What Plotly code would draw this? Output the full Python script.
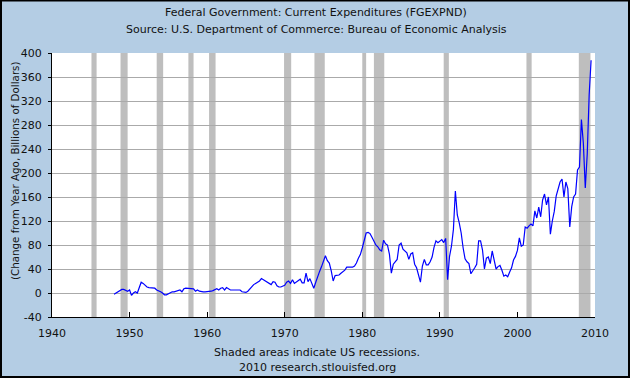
import pandas as pd
import plotly.graph_objects as go

# Quarterly change from year ago, billions of dollars, starting 1948 Q1
start_quarter = "1948-01-01"
values = [
    -2, 0, 2, 4,        # 1948
    6, 6, 5, 3,         # 1949
    5, -4, 0, 2,        # 1950
    0, 8, 18, 16,       # 1951
    12, 10, 9, 9,       # 1952
    8, 8, 5, 4,         # 1953
    2, 0, -3, -3,       # 1954
    -1, 1, 2, 2,        # 1955
    3, 4, 5, 2,         # 1956
    7, 8, 8, 8,         # 1957
    7, 7, 3, 5,         # 1958
    3, 2, 2, 2,         # 1959
    2, 2, 3, 4,         # 1960
    5, 7, 5, 8,         # 1961
    9, 5, 9, 7,         # 1962
    5, 5, 5, 6,         # 1963
    5, 5, 2, 1,         # 1964
    1, 3, 7, 10,        # 1965
    14, 16, 18, 20,     # 1966
    24, 22, 19, 18,     # 1967
    16, 14, 19, 18,     # 1968
    12, 10, 10, 12,     # 1969
    13, 18, 20, 16,     # 1970
    22, 16, 18, 20,     # 1971
    23, 17, 17, 33,     # 1972
    19, 24, 17, 8,      # 1973
    18, 28, 36, 44,     # 1974
    52, 62, 54, 50,     # 1975
    37, 20, 29, 29,     # 1976
    30, 33, 36, 38,     # 1977
    43, 43, 43, 43,     # 1978
    45, 50, 58, 64,     # 1979
    75, 90, 100, 101,   # 1980
    99, 93, 86, 80,     # 1981
    77, 72, 70, 88,     # 1982
    82, 80, 65, 33,     # 1983
    48, 53, 56, 80,     # 1984
    83, 73, 70, 67,     # 1985
    56, 65, 67, 48,     # 1986
    42, 32, 18, 45,     # 1987
    56, 47, 47, 52,     # 1988
    60, 76, 87, 84,     # 1989
    86, 89, 84, 91,     # 1990
    22, 61, 78, 106,    # 1991
    170, 130, 117, 100, # 1992
    75, 57, 52, 49,     # 1993
    32, 36, 42, 48,     # 1994
    87, 87, 72, 40,     # 1995
    58, 60, 49, 70,     # 1996
    52, 40, 44, 46,     # 1997
    38, 28, 30, 27,     # 1998
    35, 42, 55, 61,     # 1999
    71, 92, 78, 80,     # 2000
    110, 108, 112, 115, # 2001
    112, 137, 125, 143, # 2002
    127, 155, 165, 147, # 2003
    160, 98, 120, 136,  # 2004
    162, 172, 185, 190, # 2005
    160, 185, 174, 110, # 2006
    144, 160, 165, 205, # 2007
    210, 289, 250, 175, # 2008
    232, 330, 388,      # 2009
]

recession_starts = ["1945-02-01", "1948-11-01", "1953-07-01", "1957-08-01", "1960-04-01",
                    "1969-12-01", "1973-11-01", "1980-01-01", "1981-07-01", "1990-07-01",
                    "2001-03-01", "2007-12-01"]
recession_ends = ["1945-10-01", "1949-10-01", "1954-05-01", "1958-04-01", "1961-02-01",
                  "1970-11-01", "1975-03-01", "1980-07-01", "1982-11-01", "1991-03-01",
                  "2001-11-01", "2009-06-01"]

x_tick_years = ["1940", "1950", "1960", "1970", "1980", "1990", "2000", "2010"]
y_ticks = [-40, 0, 40, 80, 120, 160, 200, 240, 280, 320, 360, 400]

title_text = "Federal Government: Current Expenditures (FGEXPND)"
subtitle_text = "Source: U.S. Department of Commerce: Bureau of Economic Analysis"
y_title = "(Change from Year Ago, Billions of Dollars)"
caption1 = "Shaded areas indicate US recessions."
caption2 = "2010 research.stlouisfed.org"

dates = pd.date_range(start_quarter, periods=len(values), freq="QS")

W, H = 630, 378
ML, MR, MT, MB = 52, 35, 53, 61
PW, PH = W - ML - MR, H - MT - MB

FONT = "DejaVu Sans, Verdana, sans-serif"
BG = "#b4cde4"

fig = go.Figure()
fig.add_trace(go.Scatter(x=dates, y=values, mode="lines",
                         line=dict(color="#0000ff", width=1.2),
                         hoverinfo="x+y", showlegend=False))

shapes = []
for s, e in zip(recession_starts, recession_ends):
    shapes.append(dict(type="rect", xref="x", yref="paper", x0=s, x1=e, y0=0, y1=1,
                       fillcolor="#bebebe", line=dict(width=0), layer="between"))
# outer border of the figure
shapes.append(dict(type="rect", xref="paper", yref="paper",
                   x0=-(ML - 1) / PW, x1=1 + (MR - 1) / PW,
                   y0=-(MB - 1) / PH, y1=1 + (MT - 0.5) / PH,
                   line=dict(color="#000000", width=2), fillcolor="rgba(0,0,0,0)",
                   layer="above"))

def py(px):
    return (H - MB - px) / PH

def pxx(px):
    return (px - ML) / PW

annotations = [
    dict(text=title_text, x=pxx(316), y=py(13), xref="paper", yref="paper",
         showarrow=False, xanchor="center", yanchor="middle",
         font=dict(family=FONT, size=11, color="#111111")),
    dict(text=subtitle_text, x=pxx(316), y=py(30), xref="paper", yref="paper",
         showarrow=False, xanchor="center", yanchor="middle",
         font=dict(family=FONT, size=11, color="#111111")),
    dict(text=y_title, x=pxx(15), y=py(171), xref="paper", yref="paper",
         showarrow=False, xanchor="center", yanchor="middle", textangle=-90,
         font=dict(family=FONT, size=10.3, color="#111111")),
    dict(text=caption1, x=pxx(317), y=py(352), xref="paper", yref="paper",
         showarrow=False, xanchor="center", yanchor="middle",
         font=dict(family=FONT, size=11, color="#111111")),
    dict(text=caption2, x=pxx(317), y=py(367), xref="paper", yref="paper",
         showarrow=False, xanchor="center", yanchor="middle",
         font=dict(family=FONT, size=11, color="#111111")),
]

fig.update_layout(
    width=W, height=H,
    margin=dict(l=ML, r=MR, t=MT, b=MB, pad=0),
    paper_bgcolor=BG, plot_bgcolor="#ffffff",
    shapes=shapes, annotations=annotations,
    font=dict(family=FONT, size=11, color="#111111"),
    showlegend=False,
)
fig.update_xaxes(
    type="date", range=["1940-01-01", "2010-01-01"],
    tickvals=[f"{y}-01-01" for y in x_tick_years], ticktext=x_tick_years,
    ticks="inside", ticklen=5, tickcolor="#000000", tickwidth=1,
    showline=True, linecolor="#000000", linewidth=1,
    showgrid=False, zeroline=False, ticklabelstandoff=6,
    tickfont=dict(family=FONT, size=11, color="#111111"),
)
fig.update_yaxes(
    range=[-40, 400], tickvals=y_ticks, ticktext=[str(v) for v in y_ticks],
    ticks="outside", ticklen=3, tickcolor="#000000", tickwidth=1,
    showline=True, linecolor="#000000", linewidth=1,
    showgrid=True, gridcolor="#aaaaaa", gridwidth=1, zeroline=False,
    ticklabelstandoff=4,
    tickfont=dict(family=FONT, size=11, color="#111111"),
)

fig.write_html("out.html",
               config={"displayModeBar": False},
               post_script="document.body.style.margin='0';document.body.style.padding='0';")
